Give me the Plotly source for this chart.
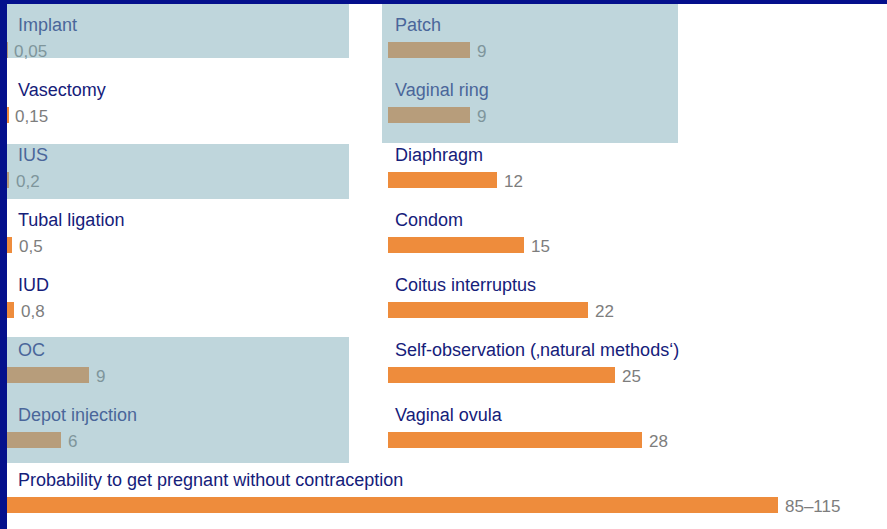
import plotly.graph_objects as go

# Pearl-index style values (pregnancies per 100 women-years)
leftMethods = ['Implant', 'Vasectomy', 'IUS', 'Tubal ligation', 'IUD', 'OC', 'Depot injection']
leftValues = [0.05, 0.15, 0.2, 0.5, 0.8, 9, 6]
leftTexts = ['0,05', '0,15', '0,2', '0,5', '0,8', '9', '6']

rightMethods = ['Patch', 'Vaginal ring', 'Diaphragm', 'Condom', 'Coitus interruptus',
  'Self-observation (\u201anatural methods\u2018)', 'Vaginal ovula']
rightValues = [9, 9, 12, 15, 22, 25, 28]
rightTexts = ['9', '9', '12', '15', '22', '25', '28']

baseMethod = 'Probability to get pregnant without contraception'
baseValue = 85
baseText = '85\u2013115'

# rows covered by the grey-blue highlight boxes
leftHighlight = [0, 2, 5, 6]
rightHighlight = [0, 1]

W, H = 887, 529
BG = '#04108C'
ORANGE = (238, 140, 60)
NAVY = (21, 32, 122)
GREY = (125, 125, 125)
OVER = (127, 173, 185)
ALPHA = 0.5
PXU = 9.07   # pixels per unit on the bar axes

def rgb(c):
  return 'rgb({},{},{})'.format(*[int(round(v)) for v in c])

def tint(c, on):
  if not on:
    return rgb(c)
  return rgb([ALPHA * o + (1 - ALPHA) * v for v, o in zip(c, OVER)])

def px(x):
  return x / W

def py(y):
  return 1 - y / H

leftRows = list(range(len(leftMethods)))
rightRows = list(range(len(rightMethods)))
baseRow = len(leftMethods)

fig = go.Figure()

fig.add_trace(go.Bar(
  x = leftValues + [baseValue],
  y = leftRows + [baseRow],
  orientation = 'h',
  width = 0.25,
  marker = dict(color = rgb(ORANGE), line = dict(width = 0)),
  xaxis = 'x', yaxis = 'y',
  hoverinfo = 'skip'
))
fig.add_trace(go.Bar(
  x = rightValues,
  y = rightRows,
  orientation = 'h',
  width = 0.25,
  marker = dict(color = rgb(ORANGE), line = dict(width = 0)),
  xaxis = 'x2', yaxis = 'y',
  hoverinfo = 'skip'
))

annotations = []
labelFont = 'Arial, Liberation Sans, sans-serif'

def addRow(xref, name, value, text, row, shift, on):
  annotations.append(dict(
    xref = xref, yref = 'y', x = 0, y = row, text = name,
    xanchor = 'left', yanchor = 'middle', xshift = shift, yshift = 25,
    showarrow = False,
    font = dict(family = labelFont, size = 18, color = tint(NAVY, on))
  ))
  annotations.append(dict(
    xref = xref, yref = 'y', x = value, y = row, text = text,
    xanchor = 'left', yanchor = 'middle', xshift = 5, yshift = -1,
    showarrow = False,
    font = dict(family = labelFont, size = 17, color = tint(GREY, on))
  ))

for r, (m, v, t) in enumerate(zip(leftMethods, leftValues, leftTexts)):
  addRow('x', m, v, t, r, 9, r in leftHighlight)
for r, (m, v, t) in enumerate(zip(rightMethods, rightValues, rightTexts)):
  addRow('x2', m, v, t, r, 5, r in rightHighlight)
addRow('x', baseMethod, baseValue, baseText, baseRow, 9, False)

# white card + highlight boxes (pixel rectangles)
shapes = [dict(type = 'rect', xref = 'paper', yref = 'paper',
  x0 = px(7), x1 = 1, y0 = 0, y1 = py(4),
  fillcolor = 'white', line = dict(width = 0), layer = 'below')]
boxes = [(7, 4, 349, 58), (7, 144, 349, 199), (7, 337, 349, 463), (382, 4, 678, 143)]
for x0, y0, x1, y1 in boxes:
  shapes.append(dict(type = 'rect', xref = 'paper', yref = 'paper',
    x0 = px(x0), x1 = px(x1), y0 = py(y1), y1 = py(y0),
    fillcolor = rgb(OVER), opacity = ALPHA, line = dict(width = 0), layer = 'above'))

hidden = dict(visible = False, showgrid = False, zeroline = False, fixedrange = True)

fig.update_layout(
  width = W, height = H,
  margin = dict(l = 0, r = 0, t = 0, b = 0),
  paper_bgcolor = BG,
  plot_bgcolor = 'rgba(0,0,0,0)',
  showlegend = False,
  bargap = 0,
  xaxis = dict(domain = [px(7), 1], range = [0, (W - 7) / PXU], anchor = 'y', **hidden),
  xaxis2 = dict(domain = [px(388), 1], range = [0, (W - 388) / PXU], anchor = 'y', **hidden),
  yaxis = dict(domain = [0, py(4)], range = [7.369, -0.708], anchor = 'x', **hidden),
  shapes = shapes,
  annotations = annotations
)

# drop the default page margin so the figure fills the window
fig.write_html('out.html', config = dict(displayModeBar = False),
  post_script = "document.body.style.margin = '0';")
